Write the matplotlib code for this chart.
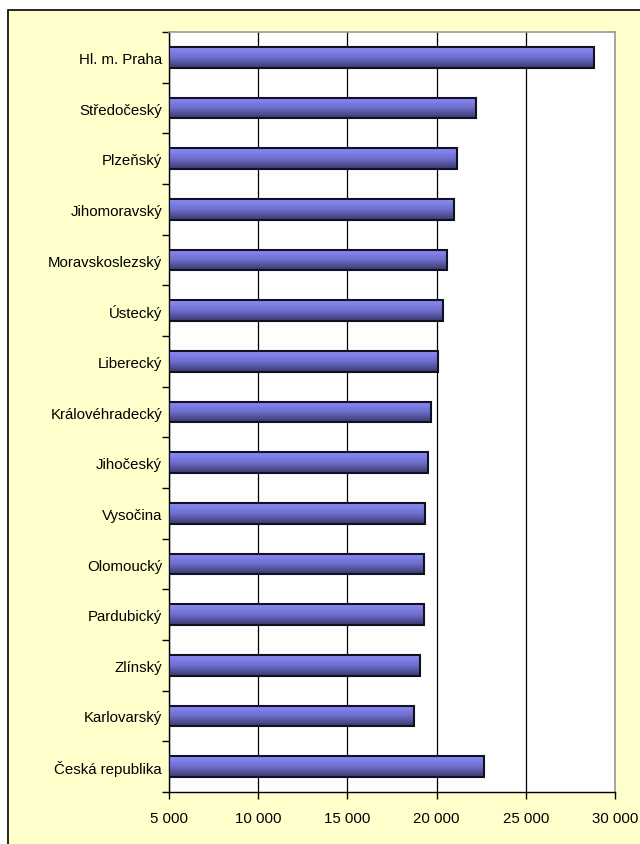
import numpy as np
import matplotlib.pyplot as plt
from matplotlib.patches import Rectangle
from matplotlib.colors import LinearSegmentedColormap

plt.rcParams['font.family'] = ['Liberation Sans', 'DejaVu Sans']

# regions (top to bottom) and values
regions = ['Hl. m. Praha', 'Středočeský', 'Plzeňský', 'Jihomoravský',
           'Moravskoslezský', 'Ústecký', 'Liberecký', 'Královéhradecký',
           'Jihočeský', 'Vysočina', 'Olomoucký', 'Pardubický', 'Zlínský',
           'Karlovarský', 'Česká republika']
values = [28810, 22200, 21120, 20950, 20560, 20340, 20095, 19690,
          19540, 19370, 19295, 19280, 19070, 18750, 22630]
xticks = [5000, 10000, 15000, 20000, 25000, 30000]

fig = plt.figure(figsize=(6.4, 8.45), dpi=100, facecolor='white')
# yellow chart area with black frame
fig.patches.append(Rectangle((8 / 640, -0.02), 1.1, 1 - 11 / 845 + 0.02,
                             transform=fig.transFigure, facecolor='#FFFFCC',
                             edgecolor='black', linewidth=1.2, zorder=-10))

ax = fig.add_axes([169 / 640, 52 / 845, (615 - 169) / 640, (793 - 33) / 845])
ax.set_facecolor('white')

cmap = LinearSegmentedColormap.from_list('bar', ['#8C8CFA', '#6E6ECC', '#3A3A6C'])
grad = np.linspace(0, 1, 64).reshape(-1, 1)
h = 0.41
y = np.arange(len(regions))
for yi, v in zip(y, values):
    ax.imshow(grad, cmap=cmap, aspect='auto', extent=(5000, v, yi + h / 2, yi - h / 2),
              zorder=3, interpolation='bilinear')
    ax.add_patch(Rectangle((5000, yi - h / 2), v - 5000, h, facecolor='none',
                           edgecolor='#111122', linewidth=1.5, zorder=4))

ax.set_xlim(5000, 30000)
ax.set_ylim(len(regions) - 0.5, -0.5)

ax.set_xticks(xticks)
ax.set_xticklabels([f'{t:,}'.replace(',', ' ') for t in xticks], fontsize=10.8)
ax.set_yticks(y)
ax.set_yticklabels(regions, fontsize=10.8)
ax.set_yticks(np.arange(-0.5, len(regions), 1), minor=True)
ax.tick_params(axis='y', which='major', length=0, pad=5)
ax.tick_params(axis='y', which='minor', length=5, width=1, direction='out')
ax.tick_params(axis='x', length=5, width=1, direction='out', pad=9)

ax.grid(axis='x', color='black', linewidth=0.9, zorder=1)
ax.set_axisbelow(True)

for side in ['top', 'right']:
    ax.spines[side].set_color('#999999')
    ax.spines[side].set_linewidth(1.2)
for side in ['left', 'bottom']:
    ax.spines[side].set_color('black')
    ax.spines[side].set_linewidth(1)

fig.savefig('out.png', dpi=100, facecolor=fig.get_facecolor())
